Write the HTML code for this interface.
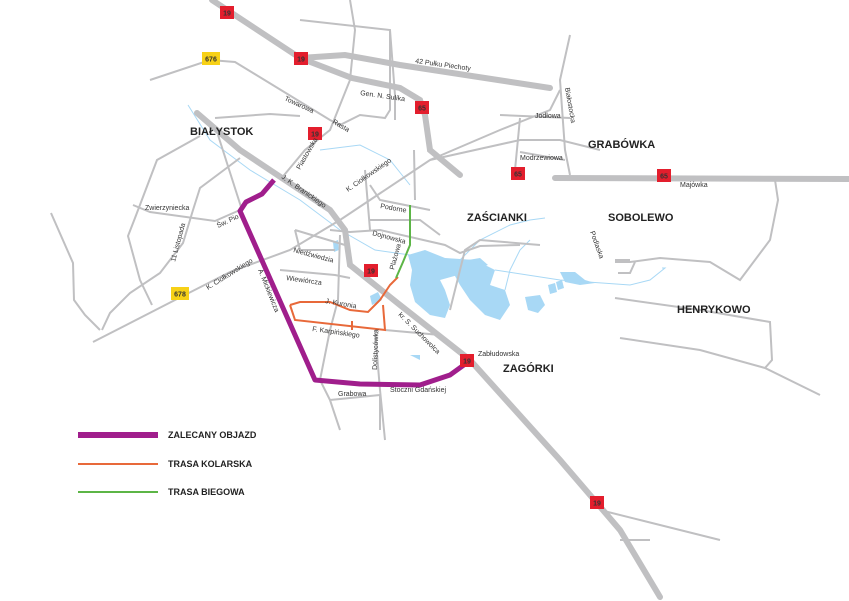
<!DOCTYPE html><html><head><meta charset="utf-8"><style>body{margin:0;background:#fff}svg{display:block}text{font-family:"Liberation Sans",sans-serif;fill:#333}.s{font-size:7px}.b{font-size:11px;font-weight:bold;fill:#222}.l{font-size:9px;font-weight:bold;fill:#222}</style></head><body>
<svg width="849" height="601" viewBox="0 0 849 601">
<g fill="#a8d8f5" stroke="none">
<path d="M408,255 L425,250 L445,258 L460,262 L458,275 L440,280 L445,290 L450,305 L445,318 L430,315 L415,302 L410,285 L412,270 Z"/>
<path d="M445,258 L475,260 L495,270 L490,285 L505,290 L510,305 L500,320 L485,315 L470,300 L460,285 Z"/>
<path d="M525,297 L540,295 L545,305 L538,313 L528,310 Z"/>
<path d="M548,285 L555,283 L557,292 L550,294 Z M556,282 L562,280 L564,288 L558,290 Z"/>
<path d="M560,272 L575,272 L585,280 L595,283 L580,285 L565,282 Z"/>
<path d="M468,260 L480,258 L488,265 L478,268 Z"/>
<path d="M410,355 L420,355 L420,360 Z"/>
<path d="M370,296 L378,292 L382,300 L372,305 Z"/>
<path d="M333,242 L338,240 L339,250 L334,252 Z"/>
</g>
<g fill="none" stroke="#a8d8f5" stroke-width="1">
<path d="M188,105 L210,140 L250,170 L300,200 L340,230 L375,250 L410,255"/>
<path d="M320,150 L360,145 L390,160 L410,185"/>
<path d="M460,260 L480,240 L510,225 L530,220 L545,218"/>
<path d="M505,290 L510,270 L520,250 L530,240"/>
<path d="M495,270 L560,280 L630,285 L650,280 L665,268 L662,268"/>
</g>
<g fill="none" stroke="#c0c0c2" stroke-width="2">
<path d="M150,80 L210,60 L235,62 L330,120 L340,125 L360,115 L385,118 L390,110 L390,30"/>
<path d="M300,20 L390,30 L395,95 L395,120"/>
<path d="M350,0 L355,30 L350,80 L330,130 L305,150 L280,180"/>
<path d="M200,136 L157,160 L135,218 L128,236 L140,280 L152,305"/>
<path d="M240,158 L200,188 L193,210 L183,243 L160,273 L130,293 L110,313 L102,330"/>
<path d="M51,213 L73,263 L74,300 L85,315 L100,330"/>
<path d="M93,342 L175,300 L230,272 L290,250 L340,220 L430,160 L500,130 L550,110 L560,90"/>
<path d="M218,135 L242,210"/>
<path d="M215,118 L270,114 L300,116"/>
<path d="M430,160 L520,140 L560,140 L600,150"/>
<path d="M450,310 L465,250 L480,240 L540,245"/>
<path d="M570,35 L560,80 L565,150 L570,175"/>
<path d="M500,115 L570,118 M520,118 L515,170 M520,152 L565,160"/>
<path d="M133,205 L150,212 L215,221 L240,210"/>
<path d="M335,250 L300,250 L295,230 M295,230 L345,245"/>
<path d="M280,270 L335,275 L350,278"/>
<path d="M340,235 L338,300 L330,330 L320,380 L330,400 L340,430 M330,400 L380,395 L380,430"/>
<path d="M385,330 L440,335 L450,345"/>
<path d="M370,185 L380,200 L430,210 M370,220 L420,220 L440,235 M330,230 L350,232 L380,230 L445,245 L460,253 L480,246 L520,245"/>
<path d="M375,330 L380,390 L385,440"/>
<path d="M414,150 L415,200"/>
<path d="M365,170 L370,230"/>
<path d="M615,262 L630,262 L660,258 L710,262 L740,280 L770,240 L778,200 L775,180"/>
<path d="M615,298 L700,310 L770,322 L772,360 L765,368"/>
<path d="M620,338 L700,350 L765,368 L820,395"/>
<path d="M600,510 L640,520 L720,540 M620,540 L650,540"/>
<path d="M615,260 L630,260 M618,273 L630,273 L635,262"/>
</g>
<g fill="none" stroke="#c0c0c2" stroke-width="6" stroke-linecap="round">
<path d="M212,0 L300,58 L352,78 L400,88 L420,100 L425,115 L430,150 L460,175"/>
<path d="M300,58 L345,55 L400,65 L550,88"/>
<path d="M197,113 L240,150 L330,210 L345,230 L350,265 L400,305 L470,360 L560,460 L620,530 L660,597"/>
<path d="M555,178 L849,179"/>
</g>
<path d="M290,305 L300,302 L330,302 L350,310 L368,312 L380,300 L390,285 L398,277 M290,305 L295,320 L385,330 L383,305 M352,321 L352,330" fill="none" stroke="#e8693a" stroke-width="2"/>
<path d="M410,205 L410,245 L403,262 L396,278" fill="none" stroke="#5cb546" stroke-width="2"/>
<path d="M274,180 L262,194 L246,202 L240,211 L315,380 L360,384 L420,385 L450,375 L468,362" fill="none" stroke="#a01e8c" stroke-width="5" stroke-linejoin="round"/>
<g fill="#e31e2d">
<rect x="220" y="6" width="14" height="13"/><rect x="294" y="52" width="14" height="13"/><rect x="308" y="127" width="14" height="13"/>
<rect x="415" y="101" width="14" height="13"/><rect x="511" y="167" width="14" height="13"/><rect x="657" y="169" width="14" height="13"/>
<rect x="364" y="264" width="14" height="13"/><rect x="460" y="354" width="14" height="13"/><rect x="590" y="496" width="14" height="13"/>
</g>
<g fill="#f7d117"><rect x="202" y="52" width="18" height="13"/><rect x="171" y="287" width="18" height="13"/></g>
<g font-size="7" font-weight="bold" text-anchor="middle" style="font-family:'Liberation Sans',sans-serif">
<text x="227" y="15.5" fill="#fff">19</text><text x="301" y="61.5" fill="#fff">19</text><text x="315" y="136.5" fill="#fff">19</text>
<text x="422" y="110.5" fill="#fff">65</text><text x="518" y="176.5" fill="#fff">65</text><text x="664" y="178.5" fill="#fff">65</text>
<text x="371" y="273.5" fill="#fff">19</text><text x="467" y="363.5" fill="#fff">19</text><text x="597" y="505.5" fill="#fff">19</text>
<text x="211" y="61.5" fill="#222">676</text><text x="180" y="296.5" fill="#222">678</text></g>
<text class="b" x="190" y="135">BIAŁYSTOK</text><text class="b" x="588" y="148">GRABÓWKA</text>
<text class="b" x="467" y="221">ZAŚCIANKI</text><text class="b" x="608" y="221">SOBOLEWO</text>
<text class="b" x="677" y="313">HENRYKOWO</text><text class="b" x="503" y="372">ZAGÓRKI</text>
<text class="s" x="415" y="63" transform="rotate(8 415 63)">42 Pułku Piechoty</text>
<text class="s" x="360" y="95" transform="rotate(8 360 95)">Gen. N. Sulika</text>
<text class="s" x="284" y="100" transform="rotate(25 284 100)">Towarowa</text>
<text class="s" x="332" y="123" transform="rotate(30 332 123)">Rasta</text>
<text class="s" x="300" y="170" transform="rotate(-60 300 170)">Piastowska</text>
<text class="s" x="281" y="178" transform="rotate(35 281 178)">J. K. Branickiego</text>
<text class="s" x="348" y="192" transform="rotate(-35 348 192)">K. Ciołkowskiego</text>
<text class="s" x="535" y="118">Jodłowa</text><text class="s" x="520" y="160">Modrzewiowa</text>
<text class="s" x="565" y="88" transform="rotate(80 565 88)">Białostocka</text>
<text class="s" x="680" y="187">Majówka</text>
<text class="s" x="145" y="210">Zwierzyniecka</text>
<text class="s" x="218" y="228" transform="rotate(-25 218 228)">Św. Pio</text>
<text class="s" x="175" y="262" transform="rotate(-75 175 262)">11 Listopada</text>
<text class="s" x="208" y="290" transform="rotate(-32 208 290)">K. Ciołkowskiego</text>
<text class="s" x="258" y="270" transform="rotate(68 258 270)">A. Mickiewicza</text>
<text class="s" x="293" y="252" transform="rotate(15 293 252)">Niedźwiedzia</text>
<text class="s" x="286" y="280" transform="rotate(8 286 280)">Wiewiórcza</text>
<text class="s" x="325" y="303" transform="rotate(10 325 303)">J. Kuronia</text>
<text class="s" x="312" y="331" transform="rotate(8 312 331)">F. Karpińskiego</text>
<text class="s" x="380" y="208" transform="rotate(10 380 208)">Podorne</text>
<text class="s" x="372" y="235" transform="rotate(15 372 235)">Dojnowska</text>
<text class="s" x="394" y="270" transform="rotate(-75 394 270)">Plażowa</text>
<text class="s" x="398" y="315" transform="rotate(45 398 315)">kr. S. Suchowolca</text>
<text class="s" x="478" y="356">Zabłudowska</text>
<text class="s" x="377" y="370" transform="rotate(-88 377 370)">Dolistycówka</text>
<text class="s" x="390" y="392">Stoczni Gdańskiej</text><text class="s" x="338" y="396">Grabowa</text>
<text class="s" x="590" y="232" transform="rotate(70 590 232)">Podlaska</text>
<line x1="78" y1="435" x2="158" y2="435" stroke="#a01e8c" stroke-width="6"/>
<line x1="78" y1="464" x2="158" y2="464" stroke="#e8693a" stroke-width="2"/>
<line x1="78" y1="492" x2="158" y2="492" stroke="#5cb546" stroke-width="2"/>
<text class="l" x="168" y="438">ZALECANY OBJAZD</text>
<text class="l" x="168" y="467">TRASA KOLARSKA</text>
<text class="l" x="168" y="495">TRASA BIEGOWA</text>
</svg></body></html>
